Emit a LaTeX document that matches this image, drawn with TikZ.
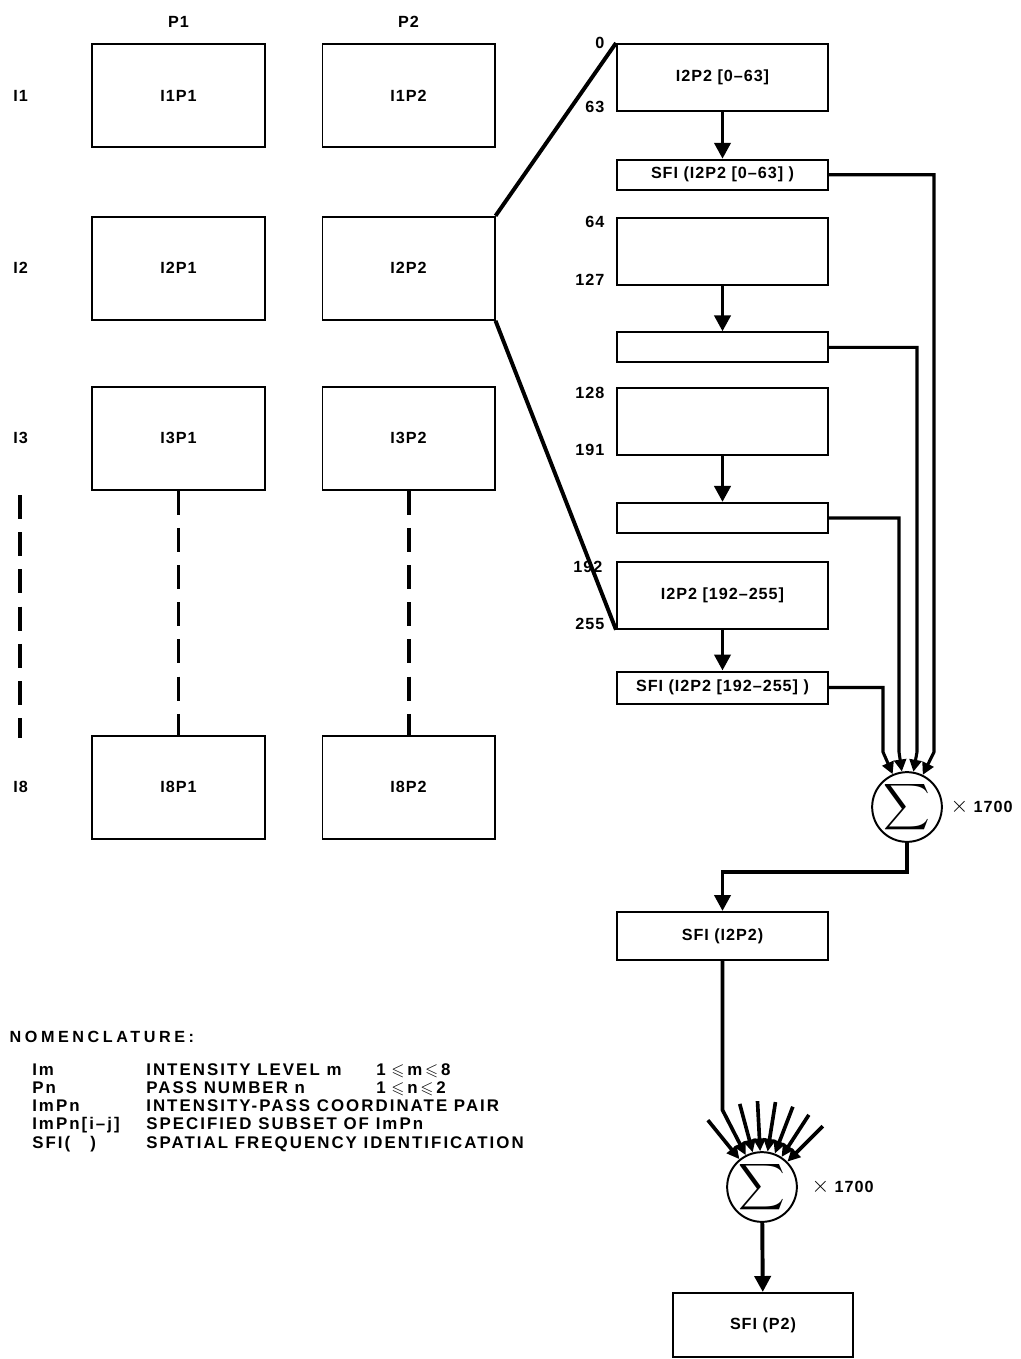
\documentclass[tikz,border=0pt]{standalone}
\usepackage{amssymb}
\usepackage{fontspec}
\setmainfont[LetterSpace=6]{Liberation Sans}
\newfontfamily\nomfont[Ligatures=TeX, LetterSpace=12]{Liberation Sans}
\newfontfamily\nomhead[Ligatures=TeX, LetterSpace=22]{Liberation Sans}
\newcommand{\bigtimes}{\scalebox{1.35}{$\times$}}
\usetikzlibrary{arrows.meta, positioning, calc}

\begin{document}
\begin{tikzpicture}[
  x=0.025cm, y=-0.025cm,
  every node/.style={font=\fontsize{11.5}{13}\selectfont\bfseries},
  cell/.style={rectangle, draw, line width=1.4pt, minimum width=4.3cm,
               minimum height=2.575cm, inner sep=0pt},
  seg/.style={rectangle, draw, line width=1.4pt, minimum width=5.275cm,
              minimum height=1.675cm, inner sep=0pt},
  sfi/.style={rectangle, draw, line width=1.4pt, minimum width=5.275cm,
              minimum height=0.75cm, inner sep=0pt},
  sumnode/.style={circle, draw, line width=1.4pt, minimum size=1.7cm, inner sep=0pt},
  lbl/.style={inner sep=1pt},
  arr/.style={-{Triangle[length=0.4cm, width=0.4cm]}, line width=2.8pt},
  conn/.style={-{Triangle[length=0.3cm, width=0.3cm]}, line width=2.2pt},
  fan/.style={-{Triangle[length=0.32cm, width=0.3cm]}, line width=2.6pt},
  link/.style={line width=2.8pt},
  gap/.style={line width=2.8pt, dash pattern=on 0.6cm off 0.33cm},
  node distance=1.15cm and 1.4cm,
]
\useasboundingbox (0,0) rectangle (1020,1359);

% Intensity-pass grid
\node[cell] (i1p1) at (178.5,95.5) {I1P1};
\node[cell, right=1.4cm of i1p1] (i1p2) {I1P2};
\node[cell, below=1.695cm of i1p1] (i2p1) {I2P1};
\node[cell, right=1.4cm of i2p1] (i2p2) {I2P2};
\node[cell, below=1.62cm of i2p1] (i3p1) {I3P1};
\node[cell, right=1.4cm of i3p1] (i3p2) {I3P2};
\node[cell, below=6.1cm of i3p1] (i8p1) {I8P1};
\node[cell, right=1.4cm of i8p1] (i8p2) {I8P2};

\node[lbl, above=0.35cm of i1p1] (p1) {P1};
\node[lbl, above=0.35cm of i1p2] (p2) {P2};
\node[lbl, left=1.55cm of i1p1] (r1) {I1};
\node[lbl, left=1.55cm of i2p1] (r2) {I2};
\node[lbl, left=1.55cm of i3p1] (r3) {I3};
\node[lbl, left=1.55cm of i8p1] (r8) {I8};

\draw[gap] (i3p1) -- (i8p1);
\draw[gap] (i3p2) -- (i8p2);
\coordinate (d1) at (20,495);
\coordinate (d2) at (20,738);
\draw[gap] (d1) -- (d2);

% Segments of I2P2
\node[seg] (s0) at (722.5,77.5) {I2P2 [0--63]};
\node[sfi, below=1.17cm of s0] (f0) {SFI (I2P2 [0--63] )};
\node[seg, below=0.645cm of f0] (s1) {};
\node[sfi, below=1.145cm of s1] (f1) {};
\node[seg, below=0.595cm of f1] (s2) {};
\node[sfi, below=1.145cm of s2] (f2) {};
\node[seg, below=0.67cm of f2] (s3) {I2P2 [192--255]};
\node[sfi, minimum height=0.8cm, below=1.02cm of s3] (f3) {SFI (I2P2 [192--255] )};

\draw[link] (i2p2.north east) -- (s0.north west);
\draw[link] (i2p2.south east) -- (s3.south west);

\node[lbl, left=0.25cm of s0.north west] (n0) {0};
\node[lbl, left=0.25cm of s0.south west, yshift=0.12cm] (n63) {63};
\node[lbl, left=0.25cm of s1.north west, yshift=-0.125cm] (n64) {64};
\node[lbl, left=0.25cm of s1.south west, yshift=0.15cm] (n127) {127};
\node[lbl, left=0.25cm of s2.north west, yshift=-0.15cm] (n128) {128};
\node[lbl, left=0.25cm of s2.south west, yshift=0.15cm] (n191) {191};
\node[lbl, left=0.3cm of s3.north west, yshift=-0.15cm] (n192) {192};
\node[lbl, left=0.25cm of s3.south west, yshift=0.15cm] (n255) {255};

\draw[arr] (s0) -- (f0);
\draw[arr] (s1) -- (f1);
\draw[arr] (s2) -- (f2);
\draw[arr] (s3) -- (f3);

% First summation
\node[sumnode] (sig1) at (907,807) {\scalebox{2}{$\displaystyle\sum$}};
\node[lbl, right=0.15cm of sig1] (m1) {\bigtimes\ 1700};

\coordinate (k0) at (934,752);
\coordinate (k1) at (917,752);
\coordinate (k2) at (899,752);
\coordinate (k3) at (883,752);
\draw[conn] (f0.east) -| (k0) -- (sig1);
\draw[conn] (f1.east) -| (k1) -- (sig1);
\draw[conn] (f2.east) -| (k2) -- (sig1);
\draw[conn] (f3.east) -| (k3) -- (sig1);

\node[sfi, minimum height=1.2cm] (ft) at (722.5,936) {SFI (I2P2)};
\coordinate (j0) at (722.5,872);
\draw[arr] (sig1.south) |- (j0) -- (ft);

% Second summation over all intensity levels
\node[sumnode] (sig2) at (762,1187) {\scalebox{2}{$\displaystyle\sum$}};
\node[lbl, right=0.3cm of sig2] (m2) {\bigtimes\ 1700};

\coordinate (b0) at (722.5,1110);
\draw[fan] (ft.south) -- (b0) -- (sig2);
\coordinate (a1) at ($(sig2)+(45:2.15cm)$);
\coordinate (a2) at ($(sig2)+(57:2.15cm)$);
\coordinate (a3) at ($(sig2)+(69:2.15cm)$);
\coordinate (a4) at ($(sig2)+(81:2.15cm)$);
\coordinate (a5) at ($(sig2)+(93:2.15cm)$);
\coordinate (a6) at ($(sig2)+(105:2.15cm)$);
\coordinate (a7) at ($(sig2)+(129:2.15cm)$);
\draw[fan] (a1) -- (sig2);
\draw[fan] (a2) -- (sig2);
\draw[fan] (a3) -- (sig2);
\draw[fan] (a4) -- (sig2);
\draw[fan] (a5) -- (sig2);
\draw[fan] (a6) -- (sig2);
\draw[fan] (a7) -- (sig2);

\node[rectangle, draw, line width=1.4pt, minimum width=4.5cm,
      minimum height=1.6cm] (fp) at (763,1325) {SFI (P2)};
\draw[arr] (sig2) -- (fp);

% Nomenclature
\node[lbl, anchor=west, font=\fontsize{11.5}{13}\selectfont\nomhead\bfseries]
  (nom) at (8,1037) {NOMENCLATURE:};
\node[anchor=north west, inner sep=0pt, font=\fontsize{12}{13}\selectfont\nomfont\bfseries]
  (nomtab) at (32,1062) {%
  \begin{tabular}{@{}p{2.85cm}@{}p{5.75cm}@{}l@{}}
  Im & INTENSITY LEVEL m & 1\,\,$\leqslant$\,m\,$\leqslant$\,8\\
  Pn & PASS NUMBER n & 1\,\,$\leqslant$\,n\,$\leqslant$\,2\\
  ImPn & \multicolumn{2}{@{}l@{}}{INTENSITY-PASS COORDINATE PAIR}\\
  ImPn[i--j] & \multicolumn{2}{@{}l@{}}{SPECIFIED SUBSET OF ImPn}\\
  SFI(\hspace{1.2em}) & \multicolumn{2}{@{}l@{}}{SPATIAL FREQUENCY IDENTIFICATION}\\
  \end{tabular}};
\end{tikzpicture}
\end{document}
